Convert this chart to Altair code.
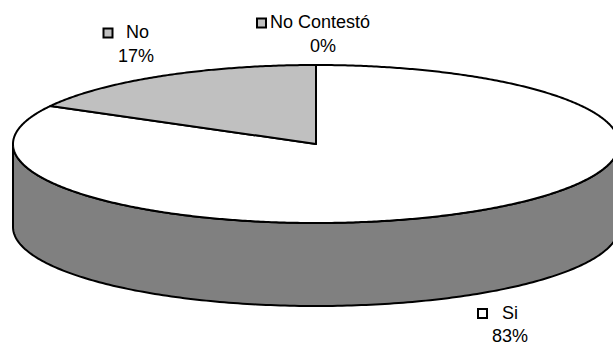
import altair as alt
import numpy as np
import pandas as pd

# ---- data ----
categories = ["Si", "No", "No Contestó"]
values = [83, 17, 0]

# ---- styles / layout ----
top_colors = {"Si": "#FFFFFF", "No": "#C0C0C0", "No Contestó": "#C0C0C0"}
side_colors = {"Si": "#808080", "No": "#606060", "No Contestó": "#606060"}
W, H = 613, 346
CX, CY, RX, RY, DEPTH = 316, 144, 303, 79, 83
label_pos = {
    "Si": {"key": (482.5, 313.5), "name": (502, 314), "pct": (510, 337)},
    "No": {"key": (108, 33), "name": (126, 33), "pct": (136, 57)},
    "No Contestó": {"key": (261.5, 23), "name": (270, 22.5), "pct": (323, 47)},
}
FONT = "Liberation Sans"
FS = 18

total = sum(values)
angles = np.cumsum([0] + [v / total * 360 for v in values])


def pt(a_deg, dy=0.0):
    a = np.radians(a_deg)
    return CX + RX * np.sin(a), CY - RY * np.cos(a) + dy


xs = alt.X("x:Q", scale=alt.Scale(domain=[0, W]), axis=None)
ys = alt.Y("y:Q", scale=alt.Scale(domain=[0, H], reverse=True), axis=None)


def poly_layer(points, fill):
    df = pd.DataFrame(points, columns=["x", "y"])
    df["o"] = range(len(df))
    return alt.Chart(df).mark_line(
        fill=fill, stroke="black", strokeWidth=2, strokeJoin="round",
        interpolate="linear-closed", clip=True
    ).encode(x=xs, y=ys, order="o:Q")


layers = []
# sides (front half only: 90..270 deg)
for i, c in enumerate(categories):
    a0, a1 = angles[i], angles[i + 1]
    s0, s1 = max(a0, 90), min(a1, 270)
    if s1 <= s0:
        continue
    arc = np.linspace(s0, s1, 200)
    pts = [pt(a) for a in arc] + [pt(a, DEPTH) for a in arc[::-1]]
    layers.append(poly_layer(pts, side_colors[c]))
# tops
for i, c in enumerate(categories):
    a0, a1 = angles[i], angles[i + 1]
    if a1 - a0 <= 0:
        continue
    n = max(int((a1 - a0) * 2), 10)
    arc = np.linspace(a0, a1, n)
    pts = [(CX, CY)] + [pt(a) for a in arc]
    layers.append(poly_layer(pts, top_colors[c]))

# labels
rows = []
for c, v in zip(categories, values):
    p = label_pos[c]
    rows.append({"cat": c, "pct": f"{round(v / total * 100)}%",
                 "kx": p["key"][0], "ky": p["key"][1],
                 "nx": p["name"][0], "ny": p["name"][1],
                 "px": p["pct"][0], "py": p["pct"][1],
                 "fill": top_colors[c]})
lab = pd.DataFrame(rows)

keys = alt.Chart(lab).mark_square(size=81, stroke="black", strokeWidth=2, opacity=1).encode(
    x=alt.X("kx:Q", scale=alt.Scale(domain=[0, W]), axis=None),
    y=alt.Y("ky:Q", scale=alt.Scale(domain=[0, H], reverse=True), axis=None),
    fill=alt.Fill("fill:N", scale=None),
)
names = alt.Chart(lab).mark_text(align="left", baseline="middle", font=FONT, fontSize=FS, color="black").encode(
    x=alt.X("nx:Q", scale=alt.Scale(domain=[0, W]), axis=None),
    y=alt.Y("ny:Q", scale=alt.Scale(domain=[0, H], reverse=True), axis=None),
    text="cat:N",
)
pcts = alt.Chart(lab).mark_text(align="center", baseline="middle", font=FONT, fontSize=FS, color="black").encode(
    x=alt.X("px:Q", scale=alt.Scale(domain=[0, W]), axis=None),
    y=alt.Y("py:Q", scale=alt.Scale(domain=[0, H], reverse=True), axis=None),
    text="pct:N",
)

chart = alt.layer(*layers, keys, names, pcts).properties(
    width=W, height=H, padding=0, autosize=alt.AutoSizeParams(type="none"),
    background="white",
).configure_view(stroke=None)

chart.save("out.html", embed_options={"renderer": "svg", "actions": False})
